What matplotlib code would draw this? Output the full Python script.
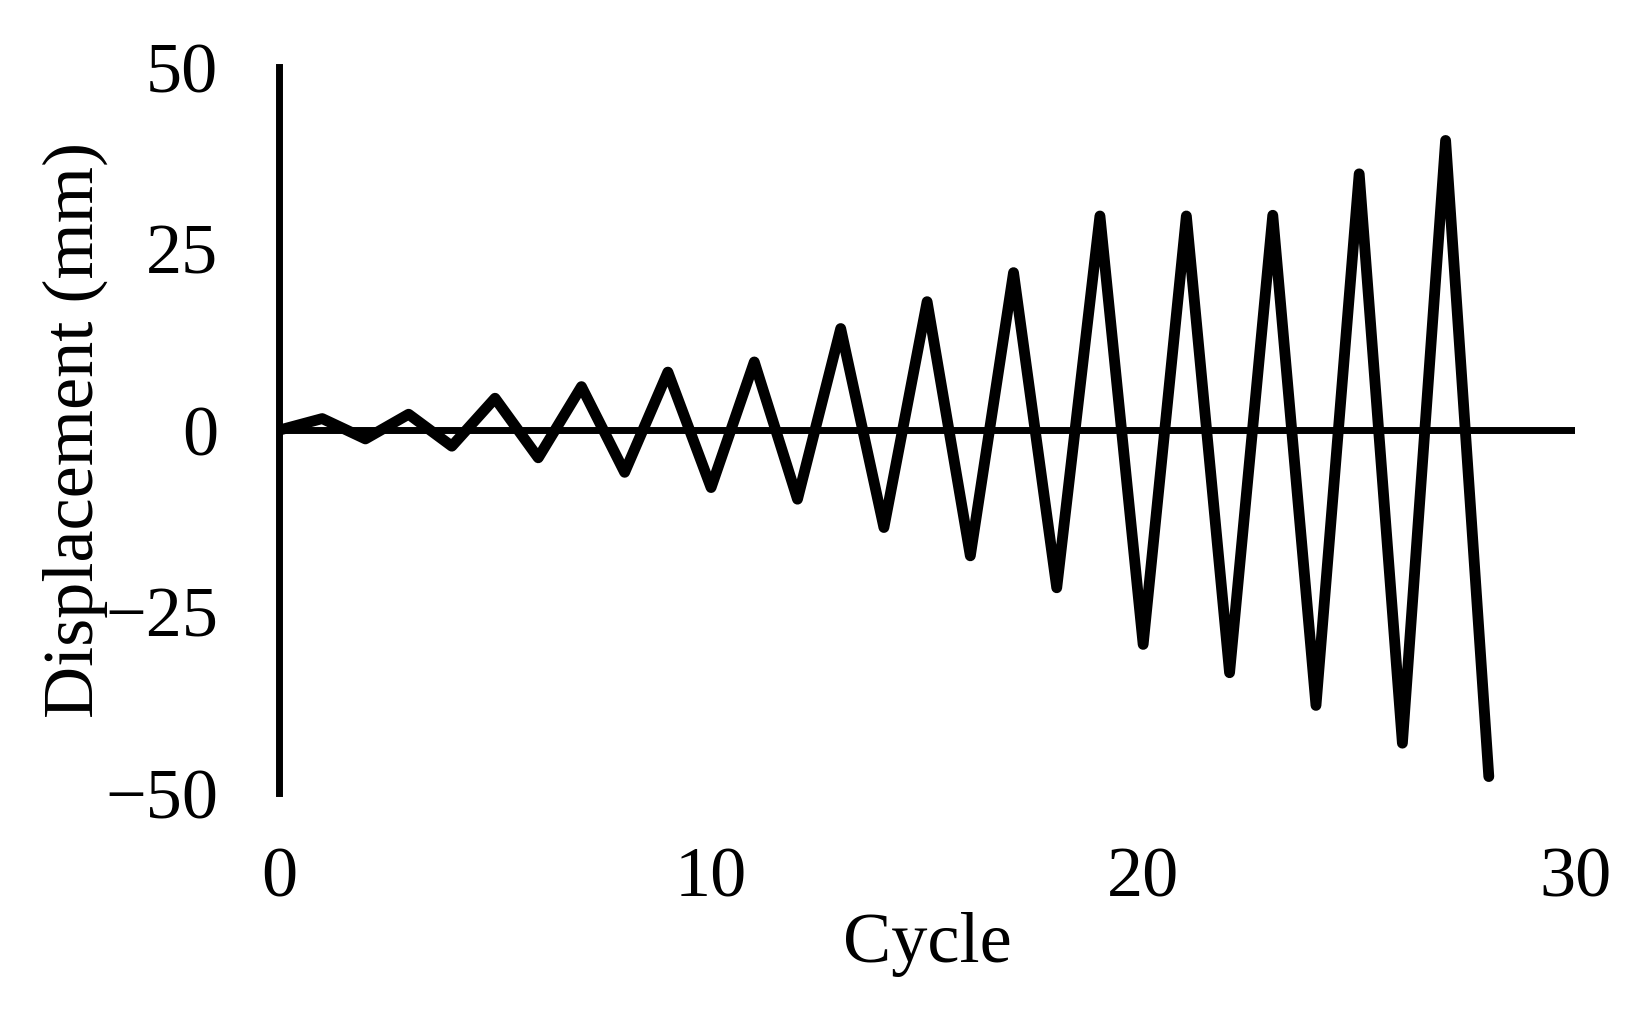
import matplotlib.pyplot as plt

plt.rcParams['font.family'] = ['Liberation Serif', 'DejaVu Serif']

# cycle number and imposed displacement (mm)
cycle = list(range(29))
displacement = [0, 1.6, -1.2, 2.2, -2.2, 4.4, -3.8, 6.0, -5.8, 8.0, -7.9, 9.4,
                -9.5, 14.0, -13.4, 17.7, -17.3, 21.7, -21.7, 29.5, -29.5, 29.5,
                -33.4, 29.6, -37.9, 35.3, -43.1, 39.9, -47.7]

xticks = [0, 10, 20, 30]
yticks = [-50, -25, 0, 25, 50]

fig = plt.figure(figsize=(16.46, 10.17), dpi=100)
ax = fig.add_axes([0.1695, 0.170, 0.7875, 0.764])

ax.plot(cycle, displacement, color='black', lw=7.8,
        solid_joinstyle='round', solid_capstyle='round', zorder=3)
ax.axhline(0, color='black', lw=5, zorder=2)

ax.set_xlim(0, 30)
ax.set_ylim(-57, 50)
ax.set_xticks(xticks)
ax.set_yticks(yticks)

for s in ['top', 'right', 'bottom']:
    ax.spines[s].set_visible(False)
ax.spines['left'].set_linewidth(5)
ax.spines['left'].set_bounds(-50, 50)

ax.tick_params(axis='both', length=0, labelsize=52)
ax.tick_params(axis='y', pad=44)
ax.tick_params(axis='x', pad=2)

ax.set_xlabel('Cycle', fontsize=52, labelpad=0)
ax.set_ylabel('Displacement (mm)', fontsize=52)
ax.yaxis.set_label_coords(-0.132, 57 / 107)

fig.savefig('out.png', dpi=100)
